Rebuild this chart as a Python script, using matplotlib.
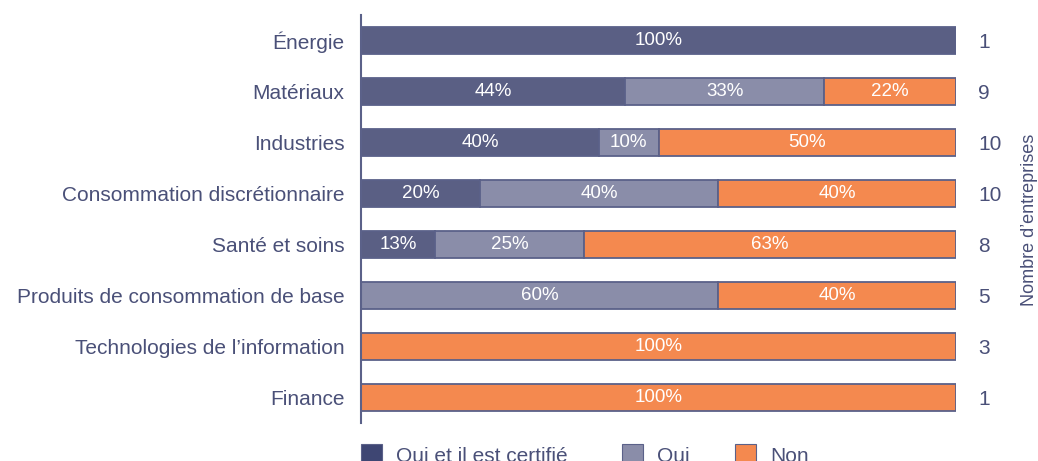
import numpy as np
import matplotlib.pyplot as plt
from matplotlib.patches import Patch

plt.rcParams['font.family'] = ['Liberation Sans', 'DejaVu Sans']

# Secteurs et nombre d'entreprises par réponse
secteurs = ['Énergie', 'Matériaux', 'Industries', 'Consommation discrétionnaire',
            'Santé et soins', 'Produits de consommation de base',
            'Technologies de l’information', 'Finance']
oui_certifie = [1, 4, 4, 2, 1, 0, 0, 0]
oui = [0, 3, 1, 4, 2, 3, 0, 0]
non = [0, 2, 5, 4, 5, 2, 3, 1]
series_labels = ['Oui et il est certifié', 'Oui', 'Non']

colors = ['#5a5f84', '#8a8da9', '#f4894f']
legend_colors = ['#3e4673', '#8a8da9', '#f4894f']
edge = '#5b6189'
text_col = '#4a5078'

counts = np.array([oui_certifie, oui, non], dtype=float)
totals = counts.sum(axis=0)
pct = counts / totals * 100

fig = plt.figure(figsize=(10.38, 4.61), dpi=100)
ax = fig.add_axes([361 / 1038, 1 - 423 / 461, (956 - 361) / 1038, (423 - 15) / 461])

y = np.arange(len(secteurs))
left = np.zeros(len(secteurs))
for i in range(3):
    ax.barh(y, pct[i], left=left, height=0.53, color=colors[i],
            edgecolor=edge, linewidth=1.3)
    for j in range(len(secteurs)):
        if pct[i, j] > 0:
            ax.text(left[j] + pct[i, j] / 2, y[j], f'{int(pct[i, j] + 0.5)}%',
                    ha='center', va='center', color='white', fontsize=13.5)
    left += pct[i]

ax.set_xlim(0, 100)
ax.set_ylim(len(secteurs) - 0.5, -0.5)
ax.set_yticks(y)
ax.set_yticklabels(secteurs, fontsize=15, color=text_col)
ax.tick_params(axis='y', length=0, pad=12)
ax.set_xticks([])
for s in ['top', 'right', 'bottom']:
    ax.spines[s].set_visible(False)
ax.spines['left'].set_color(edge)
ax.spines['left'].set_linewidth(1.5)

# nombre d'entreprises à droite
ax2 = ax.twinx()
ax2.set_ylim(ax.get_ylim())
ax2.set_yticks(y)
ax2.set_yticklabels([str(int(t)) for t in totals], fontsize=15, color=text_col)
ax2.tick_params(axis='y', length=0, pad=16)
for s in ax2.spines.values():
    s.set_visible(False)
fig.text(1029 / 1038, 1 - 220 / 461, 'Nombre d’entreprises', rotation=90,
         ha='center', va='center', fontsize=13, color=text_col)

# légende
anchors = [361, 622, 735]
for lab, c, xa in zip(series_labels, legend_colors, anchors):
    fig.legend(handles=[Patch(facecolor=c, edgecolor=edge, linewidth=0.8, label=lab)],
               loc='upper left', bbox_to_anchor=(xa / 1038, 1 - 444 / 461),
               frameon=False, fontsize=15, labelcolor=text_col,
               borderpad=0, borderaxespad=0,
               handlelength=1.0, handleheight=1.2, handletextpad=0.7)

fig.savefig('out.png', dpi=100)
